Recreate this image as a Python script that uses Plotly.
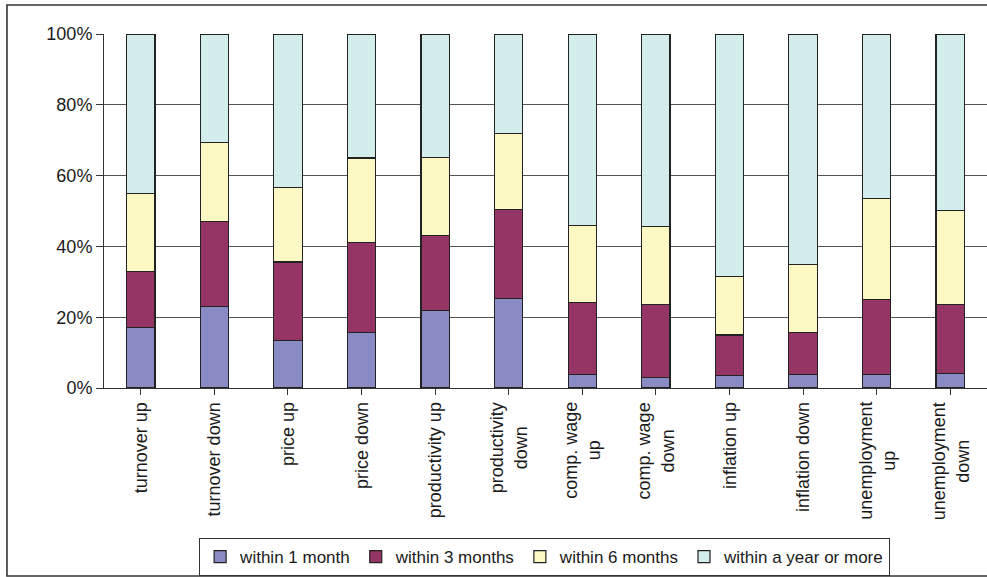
import plotly.graph_objects as go

# Categories along the x axis (two-line labels use <br>)
categories = [
    "turnover up", "turnover down", "price up", "price down",
    "productivity up", "productivity<br>down", "comp. wage<br>up",
    "comp. wage<br>down", "inflation up", "inflation down",
    "unemployment<br>up", "unemployment<br>down",
]

# Share of respondents (%) by time horizon
within_1_month = [17.0, 23.1, 13.4, 15.7, 21.9, 25.3, 3.8, 3.0, 3.5, 3.8, 3.8, 4.2]
within_3_months = [16.0, 24.0, 22.2, 25.5, 21.2, 25.1, 20.4, 20.5, 11.5, 11.9, 21.2, 19.3]
within_6_months = [21.9, 22.2, 21.1, 23.8, 22.1, 21.5, 21.8, 22.1, 16.5, 19.2, 28.5, 26.7]
within_year_or_more = [45.1, 30.7, 43.3, 35.0, 34.8, 28.1, 54.0, 54.4, 68.5, 65.1, 46.5, 49.8]

series_names = ["within 1 month", "within 3 months", "within 6 months", "within a year or more"]
series_values = [within_1_month, within_3_months, within_6_months, within_year_or_more]
series_colors = ["#8a8ac4", "#943565", "#fbf8c4", "#d3ecec"]

y_ticks = [0, 20, 40, 60, 80, 100]
y_tick_labels = ["0%", "20%", "40%", "60%", "80%", "100%"]

FONT = "Liberation Sans, Arial, sans-serif"
TEXT = "#1a1a1a"

positions = list(range(len(categories)))

fig = go.Figure()
for name, vals, col in zip(series_names, series_values, series_colors):
    fig.add_trace(go.Bar(
        x=positions,
        y=vals,
        name=name,
        marker=dict(color=col, line=dict(color="#222222", width=1.2)),
    ))

# Rotated category labels, each line centred on the category
for pos, label in zip(positions, categories):
    fig.add_annotation(
        x=pos, xref="x",
        y=-0.034, yref="paper",
        text=label, textangle=-90,
        xanchor="center", yanchor="top",
        align="center", showarrow=False,
        font=dict(family=FONT, size=18, color=TEXT),
    )

fig.update_layout(
    barmode="stack",
    bargap=0.615,
    width=987,
    height=577,
    margin=dict(l=104, r=0, t=34, b=189),
    paper_bgcolor="white",
    plot_bgcolor="white",
    font=dict(family=FONT, size=18, color=TEXT),
    showlegend=True,
    legend=dict(
        orientation="h",
        x=0.499, xanchor="center",
        y=-0.424, yanchor="top",
        bordercolor="#333333",
        borderwidth=1,
        font=dict(family=FONT, size=17, color=TEXT),
        itemwidth=30,
        traceorder="normal",
    ),
    xaxis=dict(
        tickmode="array",
        tickvals=positions,
        ticktext=categories,
        showticklabels=False,
        range=[-0.5, len(categories) - 0.5],
        tickson="boundaries",
        ticks="outside",
        ticklen=6,
        tickcolor="#333333",
        showline=True,
        linecolor="#333333",
        linewidth=1,
        showgrid=False,
    ),
    yaxis=dict(
        range=[0, 100],
        tickmode="array",
        tickvals=y_ticks,
        ticktext=y_tick_labels,
        ticks="outside",
        ticklen=7,
        tickcolor="#333333",
        showline=True,
        linecolor="#333333",
        linewidth=1,
        showgrid=True,
        gridcolor="#555555",
        gridwidth=1,
        zeroline=False,
        tickfont=dict(family=FONT, size=18, color=TEXT),
    ),
)

# Outer chart frame
fig.add_shape(
    type="rect", xref="paper", yref="paper",
    x0=-0.1099, x1=1.012, y0=-0.531, y1=1.082,
    line=dict(color="#333333", width=1.6),
    fillcolor="rgba(0,0,0,0)", layer="below",
)

fig.write_html("out.html")
